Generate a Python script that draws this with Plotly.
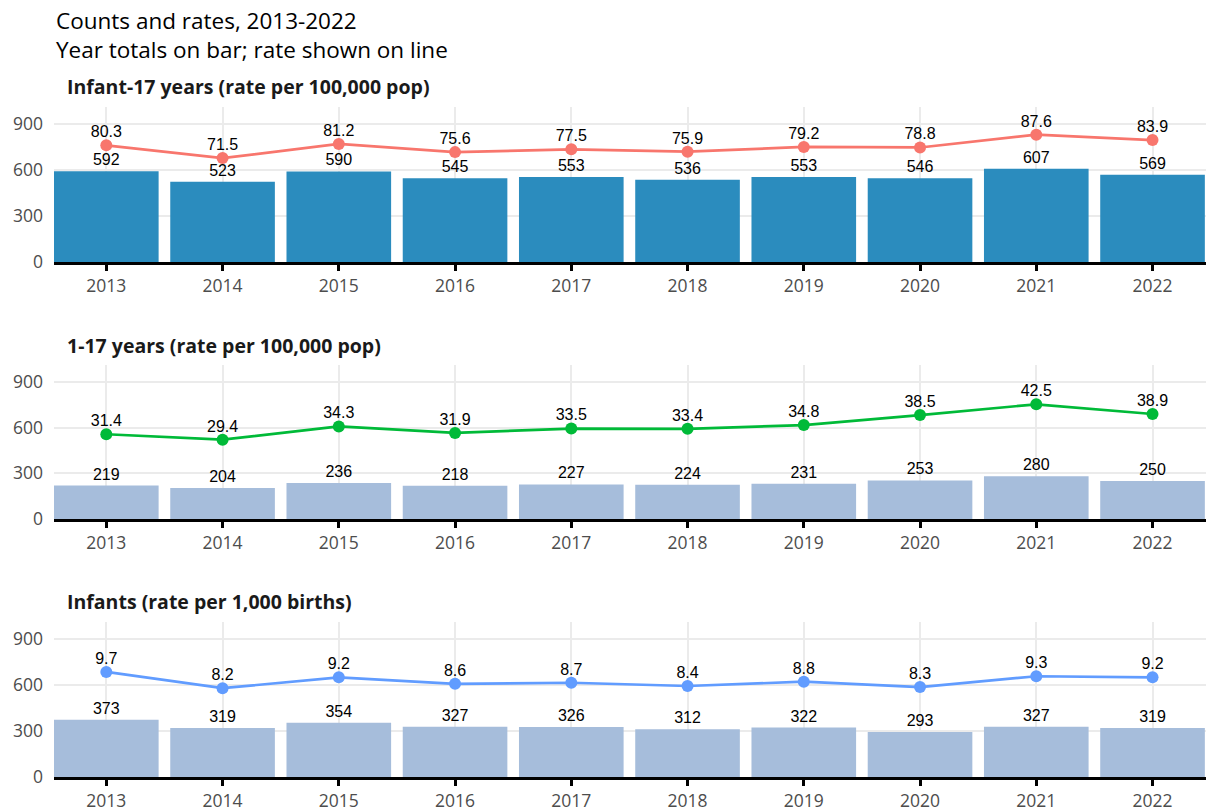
import plotly.graph_objects as go
from plotly.subplots import make_subplots

# data
years = [2013, 2014, 2015, 2016, 2017, 2018, 2019, 2020, 2021, 2022]

panel_titles = [
    "Infant-17 years (rate per 100,000 pop)",
    "1-17 years (rate per 100,000 pop)",
    "Infants (rate per 1,000 births)",
]

counts_0_17 = [592, 523, 590, 545, 553, 536, 553, 546, 607, 569]
rates_0_17 = [80.3, 71.5, 81.2, 75.6, 77.5, 75.9, 79.2, 78.8, 87.6, 83.9]

counts_1_17 = [219, 204, 236, 218, 227, 224, 231, 253, 280, 250]
rates_1_17 = [31.4, 29.4, 34.3, 31.9, 33.5, 33.4, 34.8, 38.5, 42.5, 38.9]

counts_inf = [373, 319, 354, 327, 326, 312, 322, 293, 327, 319]
rates_inf = [9.7, 8.2, 9.2, 8.6, 8.7, 8.4, 8.8, 8.3, 9.3, 9.2]

y_ticks = [0, 300, 600, 900]

# styles
bar_colors = ["#2b8cbe", "#a6bddb", "#a6bddb"]
line_colors = ["#f8766d", "#00ba38", "#619cff"]
count_top = 1010
rate_tops = [count_top / 9.47, count_top / 17.7, count_top / 70.6]
label_font = dict(family="Liberation Sans, Arial", size=16, color="black")

panels = [
    (counts_0_17, rates_0_17),
    (counts_1_17, rates_1_17),
    (counts_inf, rates_inf),
]

fig = make_subplots(rows=3, cols=1, specs=[[{"secondary_y": True}]] * 3)

for i, (cnt, rate) in enumerate(panels):
    row = i + 1
    fig.add_trace(go.Bar(
        x=years, y=cnt,
        marker=dict(color=bar_colors[i], line=dict(width=0)),
        width=0.9,
        text=[str(v) for v in cnt],
        textposition="outside",
        textfont=label_font,
        cliponaxis=False,
        showlegend=False,
        hoverinfo="x+y",
    ), row=row, col=1, secondary_y=False)
    fig.add_trace(go.Scatter(
        x=years, y=rate,
        mode="lines+markers",
        line=dict(color=line_colors[i], width=2.7),
        marker=dict(color=line_colors[i], size=12),
        cliponaxis=False,
        showlegend=False,
        hoverinfo="x+y",
    ), row=row, col=1, secondary_y=True)
    # rate labels sit close over the points (hidden small marker sets the gap)
    fig.add_trace(go.Scatter(
        x=years, y=rate,
        mode="markers+text",
        marker=dict(size=5, opacity=0),
        text=["%.1f" % v for v in rate],
        textposition="top center",
        textfont=label_font,
        cliponaxis=False,
        showlegend=False,
        hoverinfo="skip",
    ), row=row, col=1, secondary_y=True)

# domains (paper coords)
domains = [[0.7687, 1.0], [0.3851, 0.6149], [0.0, 0.2313]]

for i in range(3):
    row = i + 1
    fig.update_xaxes(
        domain=[0, 1],
        range=[2012.55, 2022.46],
        tickvals=years,
        automargin=False,
        showline=True, linecolor="black", linewidth=2.5,
        ticks="outside", ticklen=6, tickwidth=2.5, tickcolor="black",
        showgrid=True, gridcolor="#ebebeb", gridwidth=2,
        tickfont=dict(family="Open Sans", size=17.5, color="#4d4d4d"),
        zeroline=False,
        row=row, col=1,
    )
    fig.update_yaxes(
        domain=domains[i],
        range=[0, count_top],
        tickvals=y_ticks,
        automargin=False,
        showgrid=True, gridcolor="#ebebeb", gridwidth=2,
        zeroline=False, showline=False, ticks="",
        ticklabelstandoff=10,
        tickfont=dict(family="Open Sans", size=17.5, color="#4d4d4d"),
        row=row, col=1, secondary_y=False,
    )
    fig.update_yaxes(
        domain=domains[i],
        range=[0, rate_tops[i]],
        automargin=False,
        visible=False, showgrid=False, zeroline=False,
        row=row, col=1, secondary_y=True,
    )

title_y = [86, 345, 601]
for i, t in enumerate(panel_titles):
    fig.add_annotation(
        text="<b>%s</b>" % t,
        xref="paper", yref="paper",
        x=(65 - 54) / 1152, y=(808 - 31 - title_y[i]) / 670,
        xanchor="left", yanchor="middle",
        showarrow=False,
        font=dict(family="Open Sans", size=19.5, color="#1a1a1a"),
    )

fig.add_annotation(
    text="Counts and rates, 2013-2022<br>Year totals on bar; rate shown on line",
    xref="paper", yref="paper",
    x=0, y=(808 - 31 - 3) / 670,
    xanchor="left", yanchor="top", align="left",
    showarrow=False,
    font=dict(family="Open Sans", size=22.5, color="black"),
)

fig.update_layout(
    width=1207, height=808,
    margin=dict(l=54, r=1, t=107, b=31),
    paper_bgcolor="white", plot_bgcolor="white",
    bargap=0.1,
    showlegend=False,
)

# page body has a default 8px margin; drop it so the figure fills the window
fig.write_html("out.html", config={"displayModeBar": False},
               post_script="document.body.style.margin='0';")
